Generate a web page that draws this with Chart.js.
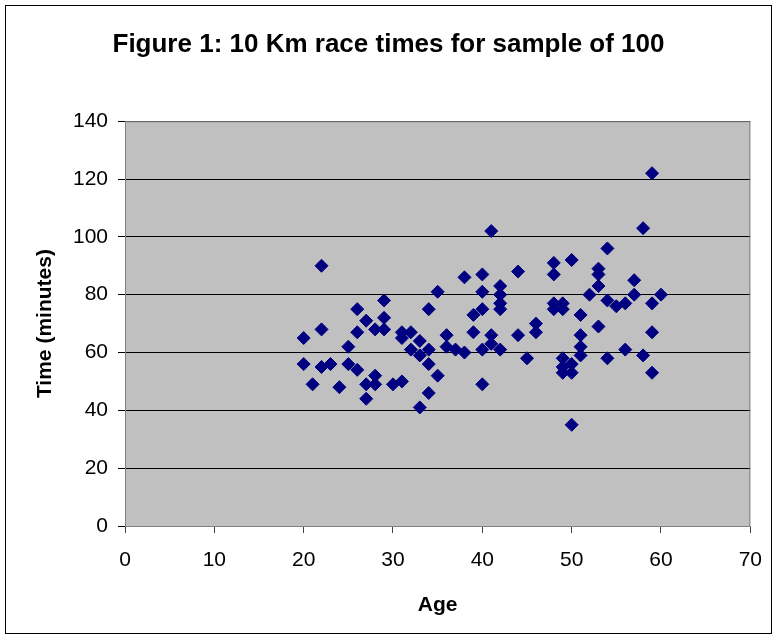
<!DOCTYPE html>
<html lang="en">

<head>
  <meta charset="UTF-8">
  <title>10 Km race times</title>
  <script src="https://cdn.jsdelivr.net/npm/chart.js"></script>
  <style>
    body { margin: 0; background: #fff; }
    #wrap { width: 777px; height: 639px; }
  </style>
</head>

<body>
  <div id="wrap">
    <canvas id="raceChart" width="777" height="639"></canvas>
  </div>

  <script>
    // ages and finishing times (minutes), one pair per runner
    const ages = [
      20, 20, 21, 22, 22, 22, 23, 24, 25, 25,
      26, 26, 26, 27, 27, 27, 28, 28, 28, 29,
      29, 29, 30, 31, 31, 31, 32, 32, 33, 33,
      33, 34, 34, 34, 34, 35, 35, 36, 36, 37,
      38, 38, 39, 39, 40, 40, 40, 40, 40, 41,
      41, 41, 42, 42, 42, 42, 42, 44, 44, 45,
      46, 46, 48, 48, 48, 48, 49, 49, 49, 49,
      49, 50, 50, 50, 50, 51, 51, 51, 51, 52,
      53, 53, 53, 53, 54, 54, 54, 55, 56, 56,
      57, 57, 58, 58, 59, 59, 59, 59, 60
    ];
    const times = [
      65, 56, 49, 90, 68, 55, 56, 48, 62, 56,
      75, 67, 54, 71, 49, 44, 68, 52, 49, 78,
      72, 68, 49, 67, 65, 50, 67, 61, 64, 59,
      41, 75, 61, 56, 46, 81, 52, 66, 62, 61,
      86, 60, 73, 67, 87, 81, 75, 61, 49, 102,
      66, 63, 83, 80, 77, 75, 61, 88, 66, 58,
      70, 67, 91, 87, 77, 75, 77, 75, 58, 55,
      53, 92, 56, 53, 35, 73, 66, 62, 59, 80,
      89, 87, 83, 69, 96, 78, 58, 76, 77, 61,
      85, 80, 103, 59, 122, 77, 67, 53, 80
    ];

    const xTicks = [0, 70, 10];   // min, max, step
    const yTicks = [0, 140, 20];

    const points = ages.map((a, i) => ({ x: a, y: times[i] }));

    Chart.defaults.font.family = '"Liberation Sans", Arial, sans-serif';
    Chart.defaults.color = '#000';

    // grey plot area, outer frame and plot border
    const frame = {
      id: 'frame',
      beforeDraw(chart) {
        const { ctx, chartArea: a } = chart;
        ctx.save();
        ctx.fillStyle = '#fff';
        ctx.fillRect(0, 0, chart.width, chart.height);
        ctx.strokeStyle = '#000';
        ctx.lineWidth = 1;
        ctx.strokeRect(5.5, 5.5, 766, 628);
        ctx.fillStyle = '#c0c0c0';
        ctx.fillRect(a.left, a.top, a.right - a.left, a.bottom - a.top);
        ctx.restore();
      },
      afterDatasetsDraw(chart) {
        const { ctx, chartArea: a } = chart;
        ctx.save();
        ctx.strokeStyle = '#808080';
        ctx.lineWidth = 1;
        ctx.strokeRect(a.left + 0.5, a.top + 0.5, a.right - a.left - 1, a.bottom - a.top);
        ctx.restore();
      }
    };

    new Chart(document.getElementById('raceChart'), {
      type: 'scatter',
      data: {
        datasets: [{
          data: points,
          pointStyle: 'rectRot',
          pointRadius: 6.5,
          pointHoverRadius: 6.5,
          backgroundColor: '#000080',
          borderColor: '#000080',
          borderWidth: 1
        }]
      },
      options: {
        responsive: false,
        animation: false,
        layout: { padding: { top: 10, left: 10, right: 10, bottom: 10 } },
        plugins: {
          legend: { display: false },
          tooltip: { enabled: false },
          title: {
            display: true,
            text: 'Figure 1: 10 Km race times for sample of 100',
            font: { size: 26, weight: 'bold' },
            padding: { top: 19, bottom: 61 }
          }
        },
        scales: {
          x: {
            type: 'linear',
            min: xTicks[0],
            max: xTicks[1],
            ticks: { stepSize: xTicks[2], padding: 15, font: { size: 21 } },
            grid: { drawOnChartArea: false, tickLength: 7, color: '#404040' },
            border: { color: '#808080' },
            title: {
              display: true,
              text: 'Age',
              font: { size: 21, weight: 'bold' },
              padding: { top: 0, bottom: 11 }
            },
            afterFit(s) { s.height = 103; }
          },
          y: {
            min: yTicks[0],
            max: yTicks[1],
            ticks: { stepSize: yTicks[2], padding: 10, font: { size: 21 } },
            grid: { color: '#000', tickLength: 7 },
            border: { color: '#808080' },
            title: {
              display: true,
              text: 'Time (minutes)',
              font: { size: 21, weight: 'bold' },
              padding: { top: 23, bottom: 0 }
            },
            afterFit(s) { s.width = 115; }
          },
          y2: {
            position: 'right',
            min: yTicks[0],
            max: yTicks[1],
            ticks: { display: false },
            grid: { display: false },
            border: { display: false },
            afterFit(s) { s.width = 16; }
          }
        }
      },
      plugins: [frame]
    });
  </script>
</body>

</html>
